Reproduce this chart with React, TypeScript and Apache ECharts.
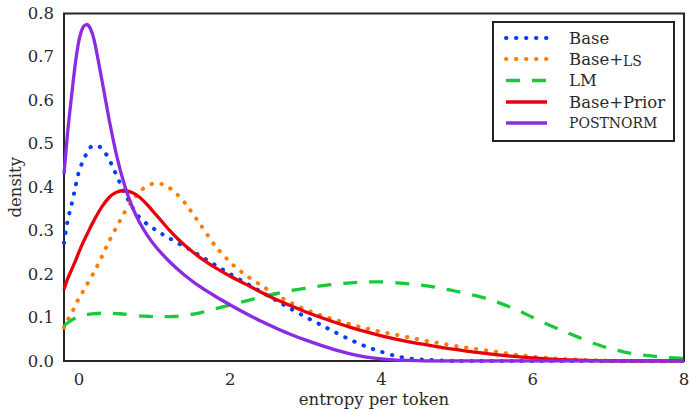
import React, { useEffect, useRef } from "react";
import * as echarts from "echarts";

const X = [-0.2, -0.15, -0.1, -0.05, 0, 0.05, 0.1, 0.15, 0.2, 0.3, 0.4, 0.5, 0.6, 0.7, 0.8, 0.9, 1.0, 1.1, 1.2, 1.3, 1.4,
  1.6, 1.8, 2.0, 2.2, 2.4, 2.6, 2.8, 3.0, 3.2, 3.4, 3.6, 3.8, 4.0, 4.2, 4.4, 4.6, 4.8, 5.0, 5.2, 5.4, 5.6, 5.8, 6.0,
  6.2, 6.4, 6.6, 6.8, 7.0, 7.2, 7.4, 7.6, 7.8, 8.0];

const base = [0.272, 0.325, 0.36, 0.40, 0.438, 0.46, 0.478, 0.492, 0.497, 0.49, 0.463, 0.425, 0.388, 0.355, 0.33, 0.315, 0.303, 0.292, 0.282, 0.272, 0.263,
  0.242, 0.221, 0.2, 0.18, 0.16, 0.14, 0.12, 0.101, 0.083, 0.065, 0.048, 0.033, 0.021, 0.011, 0.005, 0.003, 0.001, 0, 0, 0, 0, 0, 0,
  0, 0, 0, 0, 0, 0, 0, 0, 0, 0];

const baseLS = [0.077, 0.095, 0.11, 0.128, 0.146, 0.16, 0.175, 0.19, 0.205, 0.24, 0.277, 0.31, 0.342, 0.368, 0.39, 0.403, 0.409, 0.407, 0.398, 0.383, 0.364,
  0.315, 0.265, 0.227, 0.198, 0.175, 0.153, 0.134, 0.118, 0.105, 0.094, 0.084, 0.075, 0.067, 0.06, 0.053, 0.046, 0.04, 0.034, 0.029, 0.024, 0.019, 0.014, 0.01,
  0.007, 0.005, 0.003, 0.002, 0.001, 0, 0, 0, 0, 0];

const lm = [0.081, 0.088, 0.094, 0.099, 0.103, 0.105, 0.107, 0.108, 0.109, 0.11, 0.11, 0.109, 0.108, 0.106, 0.104, 0.103, 0.102, 0.102, 0.102, 0.103, 0.105,
  0.111, 0.12, 0.129, 0.138, 0.147, 0.155, 0.162, 0.168, 0.173, 0.177, 0.18, 0.182, 0.182, 0.18, 0.177, 0.173, 0.167, 0.16, 0.152, 0.143, 0.131, 0.117, 0.1,
  0.084, 0.069, 0.055, 0.041, 0.03, 0.021, 0.015, 0.011, 0.008, 0.006];

const basePrior = [0.165, 0.19, 0.21, 0.23, 0.252, 0.272, 0.29, 0.308, 0.325, 0.355, 0.377, 0.389, 0.392, 0.388, 0.377, 0.36, 0.34, 0.32, 0.30, 0.282, 0.266,
  0.238, 0.215, 0.195, 0.177, 0.159, 0.142, 0.127, 0.113, 0.1, 0.088, 0.077, 0.067, 0.058, 0.05, 0.043, 0.037, 0.031, 0.026, 0.021, 0.017, 0.013, 0.01, 0.007,
  0.005, 0.003, 0.002, 0.001, 0, 0, 0, 0, 0, 0];

const postnorm = [0.43, 0.53, 0.61, 0.685, 0.74, 0.768, 0.775, 0.765, 0.738, 0.648, 0.553, 0.47, 0.405, 0.356, 0.319, 0.29, 0.266, 0.246, 0.228, 0.212, 0.197,
  0.171, 0.149, 0.129, 0.11, 0.092, 0.076, 0.061, 0.048, 0.036, 0.025, 0.016, 0.009, 0.005, 0.002, 0.001, 0, 0, 0, 0, 0, 0, 0, 0,
  0, 0, 0, 0, 0, 0, 0, 0, 0, 0];

const seriesNames = ["Base", "Base+LS", "LM", "Base+Prior", "PostNorm"];
const legendLabels = ["{n|Base}", "{n|Base+}{sc|LS}", "{n|LM}", "{n|Base+Prior}", "{sc|POSTNORM}"];
const seriesValues = [base, baseLS, lm, basePrior, postnorm];
const colors = ["#023eff", "#ff7c00", "#1ac938", "#e8000b", "#8b2be2"];
const dashes: (number[] | null)[] = [[0.4, 9.6], [0.4, 9.6], [14, 12], null, null];
const caps = ["round", "round", "butt", "butt", "butt"];
const xTicks = [0, 2, 4, 6, 8];

const FONT = "DejaVu Serif";
const TXT = "#2a2a2a";
const FS = 16.5;

export default function App() {
  const ref = useRef<HTMLDivElement>(null);
  useEffect(() => {
    if (!ref.current) return;
    const chart = echarts.init(ref.current, undefined, { renderer: "svg" });
    const widthOf = (i: number) => (dashes[i] && caps[i] === "round" ? 4 : 3.3);
    const series = seriesNames.map((name, i) => ({
      name,
      type: "line",
      data: X.map((x, j) => [x, seriesValues[i][j]]),
      symbol: "none",
      smooth: 0.25,
      lineStyle: {
        color: colors[i],
        width: widthOf(i),
        type: dashes[i] ? dashes[i] : "solid",
        cap: caps[i],
      },
      itemStyle: { color: colors[i] },
      z: 2 + i,
    }));

    const rowY = [38, 59, 80.5, 102, 123];
    const legendChildren: any[] = [
      {
        type: "rect",
        shape: { x: 493, y: 22, width: 181, height: 119 },
        style: { fill: "#fff", stroke: "#222", lineWidth: 2 },
      },
    ];
    seriesNames.forEach((_, i) => {
      legendChildren.push({
        type: "line",
        shape: { x1: 506, y1: rowY[i], x2: 547, y2: rowY[i] },
        style: {
          stroke: colors[i],
          lineWidth: widthOf(i),
          lineDash: dashes[i] ? dashes[i] : null,
          lineCap: caps[i],
        },
      });
      legendChildren.push({
        type: "text",
        x: 569,
        y: rowY[i],
        style: {
          text: legendLabels[i],
          verticalAlign: "middle",
          align: "left",
          fill: TXT,
          rich: {
            n: { fontFamily: FONT, fontSize: FS, fill: TXT, verticalAlign: "bottom" },
            sc: { fontFamily: FONT, fontSize: 14, fill: TXT, verticalAlign: "bottom" },
          },
        },
      });
    });

    chart.setOption({
      animation: false,
      backgroundColor: "#fff",
      grid: {
        left: 64,
        right: 6,
        top: 13.5,
        bottom: 48,
        show: true,
        borderColor: "#262626",
        borderWidth: 2,
        backgroundColor: "transparent",
        containLabel: false,
        outerBoundsMode: "none",
      },
      xAxis: {
        type: "value",
        min: -0.2,
        max: 8,
        name: "entropy per token",
        nameLocation: "middle",
        nameGap: 30,
        nameMoveOverlap: false,
        nameTextStyle: { fontFamily: FONT, fontSize: FS, color: TXT, lineHeight: 17 },
        axisLine: { show: false },
        axisTick: { show: false },
        splitLine: { show: false },
        axisLabel: {
          customValues: xTicks,
          fontFamily: FONT,
          fontSize: FS,
          color: TXT,
          margin: 10,
          formatter: (v: number) => String(v),
        },
      },
      yAxis: {
        type: "value",
        min: 0,
        max: 0.8,
        interval: 0.1,
        name: "density",
        nameLocation: "middle",
        nameGap: 40,
        nameMoveOverlap: false,
        nameTextStyle: { fontFamily: FONT, fontSize: FS, color: TXT },
        axisLine: { show: false },
        axisTick: { show: false },
        splitLine: { show: false },
        axisLabel: {
          fontFamily: FONT,
          fontSize: FS,
          color: TXT,
          margin: 10,
          formatter: (v: number) => v.toFixed(1),
        },
      },
      series,
      graphic: [{ type: "group", z: 100, children: legendChildren }],
    });
    return () => chart.dispose();
  }, []);
  return <div ref={ref} style={{ width: 690, height: 409, position: "absolute", left: 0, top: 0 }} />;
}
